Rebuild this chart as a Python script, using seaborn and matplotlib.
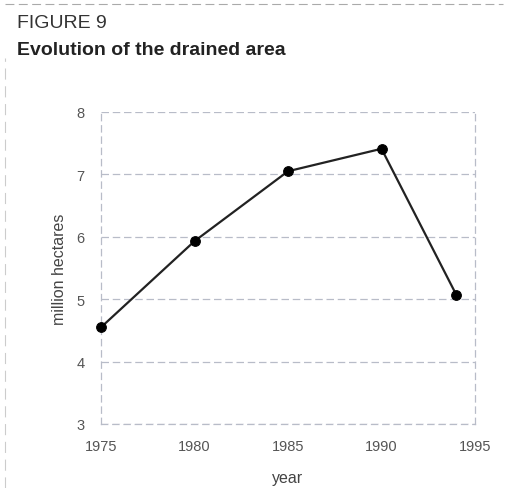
import pandas as pd
import matplotlib.pyplot as plt
import seaborn as sns

years = [1975, 1980, 1985, 1990, 1994]
drained = [4.55, 5.93, 7.05, 7.41, 5.07]
x_ticks = [1975, 1980, 1985, 1990, 1995]
y_ticks = [3, 4, 5, 6, 7, 8]

df = pd.DataFrame({"year": years, "million hectares": drained})

sns.set_style("white")
plt.rcParams['font.family'] = ['Liberation Sans', 'DejaVu Sans']

fig = plt.figure(figsize=(5.08, 4.89), dpi=100)
ax = fig.add_axes([0.199, 0.131, 0.736, 0.638])

sns.lineplot(data=df, x="year", y="million hectares", ax=ax, color="#222222",
             linewidth=1.6, marker="o", markersize=7, markeredgecolor="black",
             markerfacecolor="black", clip_on=False, zorder=5)

ax.set_xlim(1975, 1995)
ax.set_ylim(3, 8)
ax.set_xticks(x_ticks)
ax.set_yticks(y_ticks)
ax.tick_params(axis="both", labelsize=10.5, colors="#555555")
ax.tick_params(axis="y", length=3, width=0.8, pad=9, color="#b8bcc8")
ax.tick_params(axis="x", length=0, pad=11)
ax.yaxis.grid(True, linestyle=(0, (6, 3)), color="#b8bcc8", linewidth=0.9)
for side, sp in ax.spines.items():
    sp.set_linestyle((0, (5, 4)))
    sp.set_color("#b8bcc8")
    sp.set_linewidth(0.9)
ax.spines["top"].set_visible(False)

ax.set_xlabel("year", fontsize=11.5, color="#444444", labelpad=12)
ax.set_ylabel("million hectares", fontsize=11.5, color="#444444", labelpad=7)

fig.text(0.033, 0.952, "FIGURE 9", fontsize=14, color="#333333", va="center")
fig.text(0.033, 0.897, "Evolution of the drained area", fontsize=14,
         fontweight="bold", color="#222222", va="center")
fig.add_artist(plt.Line2D([0.01, 0.99], [0.99, 0.99], color="#aaaaaa",
                          linestyle=(0, (8, 4)), linewidth=0.8))
fig.add_artist(plt.Line2D([0.01, 0.01], [0.0, 0.88], color="#cccccc",
                          linestyle=(0, (10, 6)), linewidth=0.8))

fig.savefig("out.png", dpi=100)
